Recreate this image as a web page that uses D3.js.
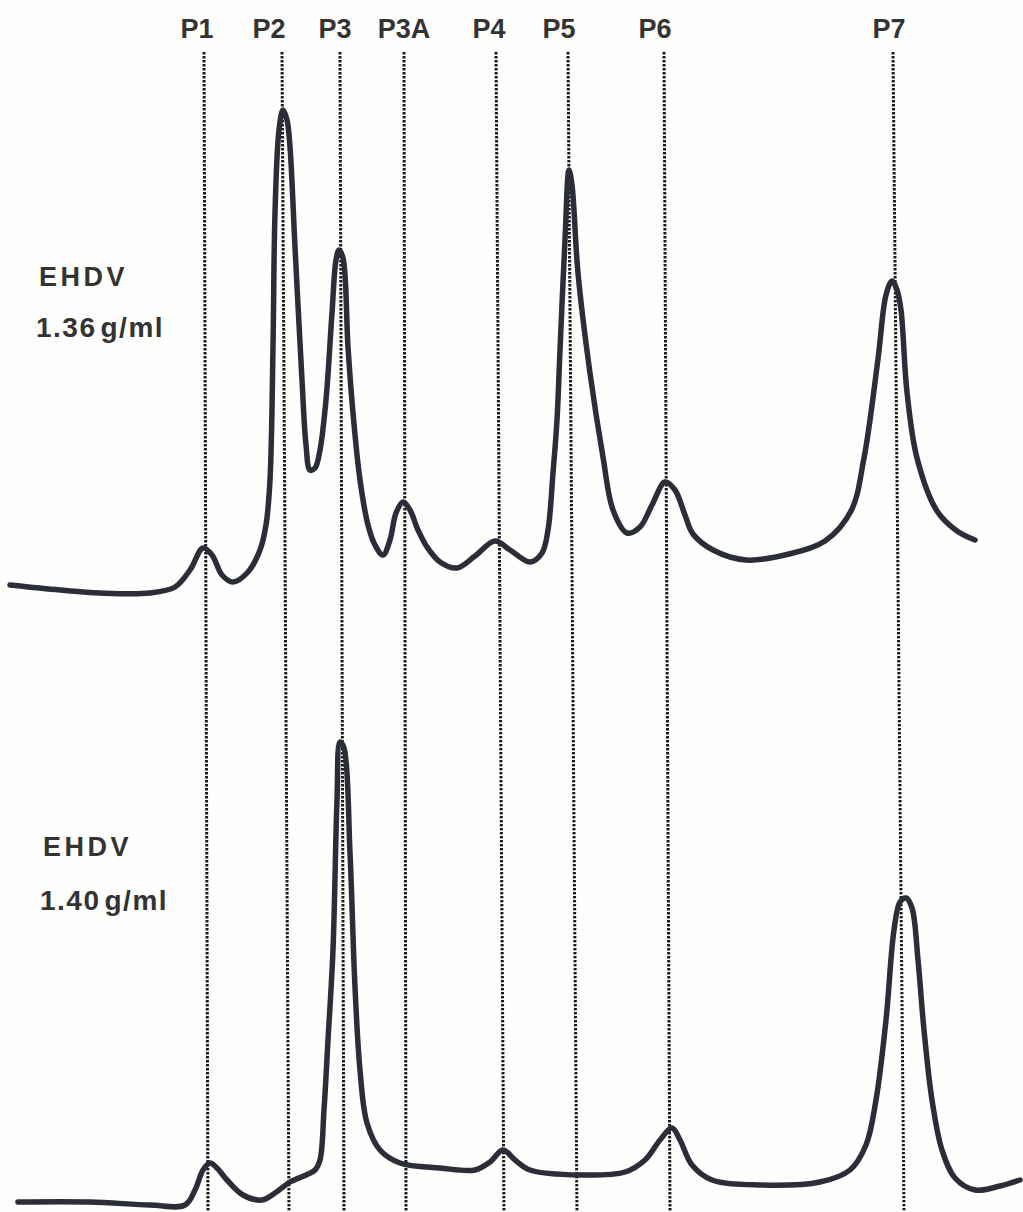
<!DOCTYPE html>
<html>
<head>
<meta charset="utf-8">
<script src="https://d3js.org/d3.v7.min.js"></script>
<style>
  html, body { margin: 0; padding: 0; background: #fefefc; }
  svg { display: block; }
</style>
</head>
<body>
<div id="chart"></div>
<script>
// Peak markers (scan position, arbitrary units 0-100)
const peakNames = ["P1", "P2", "P3", "P3A", "P4", "P5", "P6", "P7"];
const peakLabelPos = [18.7, 25.9, 32.5, 39.4, 47.9, 54.9, 64.5, 87.9];
const peakTopPos = [19.4, 27.2, 33.0, 39.4, 48.6, 55.8, 65.4, 88.3];
const peakBottomPos = [19.8, 27.9, 33.4, 39.6, 49.4, 56.7, 66.0, 89.4];

// Sample labels
const sampleNames = ["EHDV", "EHDV"];
const sampleDensities = ["1.36", "1.40"];
const densityUnit = "g/ml";

// Trace 1: EHDV 1.36 g/ml (position, relative absorbance)
const scan136Pos = [0, 5, 9, 14, 16.5, 18, 19.3, 20.2, 21.2, 22.3, 23.8, 25, 25.6, 26, 26.3, 26.5, 26.9, 27.3, 27.7, 28,
  28.5, 29.2, 29.6, 30, 30.5, 31, 31.6, 32.2, 32.6, 32.9, 33.3, 33.8, 34.3, 35, 35.8, 36.5, 37.3, 38, 38.6, 39.3,
  40, 40.8, 41.7, 43, 44.7, 46.5, 48.5, 50, 52, 53.2, 53.8, 54.3, 54.7, 55, 55.5, 55.9, 56.2, 56.8, 58, 59.3,
  60.3, 61.7, 63, 64.2, 65.5, 66.5, 67.5, 68.3, 70.3, 73.6, 77.9, 81.5, 84.1, 85.4, 86.8, 87.6, 88.2, 88.7, 89.1, 89.7,
  90.7, 92.7, 94.7, 96.5];
const scan136Abs = [3, 2, 1.4, 1.4, 2.6, 6, 10.4, 9, 5, 3.6, 5.6, 10, 15, 24, 50.6, 77.4, 94, 98, 96, 90.6,
  70.6, 44, 31, 26, 26.4, 30, 40, 57.4, 68, 70, 68.4, 50.6, 37.4, 24, 15, 11, 9, 12, 17.4, 19.6,
  18, 14, 10.6, 7.6, 6.4, 8.8, 11.8, 10, 7.6, 9.4, 14, 25.4, 36, 50, 72, 86, 83, 65.4, 45.4, 28.6,
  18, 13.4, 14.6, 19, 23.6, 22, 17, 13.2, 10, 8, 9.2, 11.8, 17.8, 28.4, 48.2, 61, 63.8, 62, 58, 41.6,
  28.4, 17.8, 13.8, 12];

// Trace 2: EHDV 1.40 g/ml
const scan140Pos = [0.8, 8, 14, 17.5, 18.5, 19.3, 20, 20.7, 21.7, 23.3, 25.2, 26.5, 28, 30.5, 31, 31.4, 31.8, 32.3, 32.7, 33,
  33.4, 34, 34.5, 35, 35.7, 37, 39, 43, 46.5, 48, 49.3, 50.5, 52, 57, 61.5, 63.5, 65, 66.2, 67, 68.2,
  70.2, 75, 81, 84, 85.6, 86.6, 87.6, 88.4, 89, 89.6, 90.2, 90.8, 91.4, 92.2, 93.2, 94.5, 96.5, 99, 101];
const scan140Abs = [1.6, 1.6, 1, 1, 4, 8, 9.4, 8.4, 6, 3, 2, 3.4, 5.6, 8, 10, 20, 34, 52, 82, 93.6,
  92.4, 71.4, 44.6, 28, 17.4, 12, 9.4, 8.4, 8, 9.6, 12, 10, 8, 7, 7.6, 10, 14, 16.4, 14, 9,
  6, 5, 5.6, 8, 13, 22, 38, 56, 61.6, 62.4, 60.4, 50, 36, 22, 12, 6.4, 4, 4.8, 6];

const styles = {
  trace: { stroke: "#2b2d38", width: 5.5 },
  marker: { stroke: "#1a1a1a", width: 3, dash: "2.4,1.6" },
  text: { fill: "#333", font: "'Liberation Sans', Arial, sans-serif" }
};

const width = 1023, height = 1212;
const markerTop = 52, markerBottom = 1212;

const svg = d3.select("#chart").append("svg")
  .attr("width", width)
  .attr("height", height);

const x = d3.scaleLinear().domain([0, 100]).range([10, 1010]);
const yTop = d3.scaleLinear().domain([0, 100]).range([600, 100]);
const yBottom = d3.scaleLinear().domain([0, 100]).range([1210, 710]);

// dotted peak markers (slightly slanted, as in the original scan)
const markers = peakNames.map((name, i) => ({ name, label: peakLabelPos[i], top: peakTopPos[i], bottom: peakBottomPos[i] }));

svg.append("g").selectAll("line")
  .data(markers)
  .enter().append("line")
  .attr("x1", d => x(d.top))
  .attr("x2", d => x(d.bottom))
  .attr("y1", markerTop)
  .attr("y2", markerBottom)
  .attr("stroke", styles.marker.stroke)
  .attr("stroke-width", styles.marker.width)
  .attr("stroke-dasharray", styles.marker.dash);

svg.append("g").selectAll("text")
  .data(markers)
  .enter().append("text")
  .attr("x", d => x(d.label))
  .attr("y", 38)
  .attr("text-anchor", "middle")
  .attr("font-family", styles.text.font)
  .attr("font-weight", "bold")
  .attr("font-size", 27)
  .attr("fill", styles.text.fill)
  .text(d => d.name);

// traces
const traces = [
  { pos: scan136Pos, abs: scan136Abs, y: yTop },
  { pos: scan140Pos, abs: scan140Abs, y: yBottom }
];

traces.forEach(t => {
  const pts = t.pos.map((p, i) => [p, t.abs[i]]);
  const line = d3.line()
    .x(d => x(d[0]))
    .y(d => t.y(d[1]))
    .curve(d3.curveCatmullRom.alpha(0.5));
  svg.append("path")
    .datum(pts)
    .attr("fill", "none")
    .attr("stroke", styles.trace.stroke)
    .attr("stroke-width", styles.trace.width)
    .attr("stroke-linecap", "round")
    .attr("stroke-linejoin", "round")
    .attr("d", line);
});

// sample labels
const labelSpots = [
  { nameY: 286, densY: 337, x: 36 },
  { nameY: 856, densY: 910, x: 40 }
];

labelSpots.forEach((s, i) => {
  svg.append("text")
    .attr("x", s.x + 3)
    .attr("y", s.nameY)
    .attr("font-family", styles.text.font)
    .attr("font-weight", "bold")
    .attr("font-size", 27)
    .attr("letter-spacing", 3.5)
    .attr("fill", styles.text.fill)
    .text(sampleNames[i]);
  const t = svg.append("text")
    .attr("x", s.x)
    .attr("y", s.densY)
    .attr("font-family", styles.text.font)
    .attr("font-weight", "bold")
    .attr("font-size", 28)
    .attr("letter-spacing", 1.5)
    .attr("fill", styles.text.fill);
  t.append("tspan").text(sampleDensities[i]);
  t.append("tspan").attr("dx", 4).text(densityUnit);
});
</script>
</body>
</html>
